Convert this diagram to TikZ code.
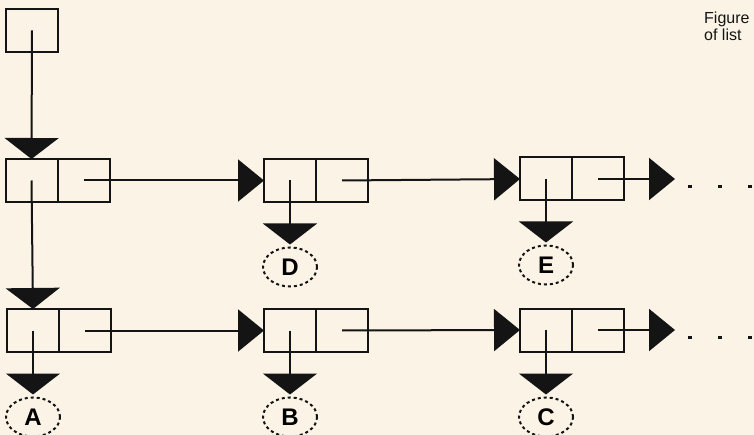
\documentclass[tikz,border=0pt]{standalone}
\usepackage{fontspec}
\setsansfont{Liberation Sans}
\usetikzlibrary{arrows.meta,shapes.geometric}
\definecolor{paper}{HTML}{FBF3E6}
\definecolor{ink}{HTML}{141414}
\tikzset{
  cell/.style={draw=ink, line width=2pt, minimum width=52pt, minimum height=43pt, inner sep=0pt, outer sep=0pt},
  atom/.style={ellipse, draw=ink, line width=2pt, dash pattern=on 3pt off 3pt, minimum width=54pt, minimum height=39pt, inner sep=0pt, font=\sffamily\bfseries\fontsize{24}{24}\selectfont},
  ptr/.style={draw=ink, line width=2pt},
  dnarrow/.style={ptr, -{Triangle[length=21pt,width=54pt]}},
  rtarrow/.style={ptr, -{Triangle[length=26pt,width=42pt]}},
}
\begin{document}
\begin{tikzpicture}[x=1pt, y=-1pt]
	\fill[paper] (0,0) rectangle (754,435);
	\useasboundingbox (0,0) rectangle (754,435);
	
	% title
	\node[anchor=base west, font=\sffamily\fontsize{16}{16}\selectfont, text=ink, inner sep=0pt] (fig) at (704,24) {Figure};
	\node[anchor=base west, font=\sffamily\fontsize{16}{16}\selectfont, text=ink, inner sep=0pt] (fig2) at (704,41) {of list};
	
	% single cell on top
	\node[cell] (top) at (32,30.5) {};
	
	% first row of cells
	\node[cell] (r1a) at (31.5,180.5) {};
	\node[cell] (r1b) at (83.5,180.5) {};
	\node[cell] (d1a) at (290,180.5) {};
	\node[cell] (d1b) at (342,180.5) {};
	\node[cell] (e1a) at (546,179) {};
	\node[cell] (e1b) at (598,179) {};
	\coordinate (e1end) at (675,179);
	
	% second row of cells
	\node[cell] (r2a) at (33,330.5) {};
	\node[cell] (r2b) at (85,330.5) {};
	\node[cell] (b2a) at (290,330.5) {};
	\node[cell] (b2b) at (342,330.5) {};
	\node[cell] (c2a) at (546,330) {};
	\node[cell] (c2b) at (598,330) {};
	\coordinate (c2end) at (675,330);
	
	% atoms
	\node[atom] (D) at (290,267) {D};
	\node[atom] (E) at (546,265) {E};
	\node[atom] (A) at (33,417) {A};
	\node[atom] (B) at (290,417) {B};
	\node[atom] (C) at (546,417) {C};
	
	% pointers down
	\draw[dnarrow] (top.center) -- (r1a.north);
	\draw[dnarrow] (r1a.center) -- (r2a.north);
	\draw[dnarrow, shorten >=2pt] (d1a.center) -- (D.north);
	\draw[dnarrow, shorten >=2pt] (e1a.center) -- (E.north);
	\draw[dnarrow, shorten >=2pt] (r2a.center) -- (A.north);
	\draw[dnarrow, shorten >=2pt] (b2a.center) -- (B.north);
	\draw[dnarrow, shorten >=2pt] (c2a.center) -- (C.north);
	
	% pointers right
	\draw[rtarrow] (r1b.center) -- (d1a.west);
	\draw[rtarrow] (d1b.center) -- (e1a.west);
	\draw[rtarrow] (e1b.center) -- (e1end);
	\draw[rtarrow] (r2b.center) -- (b2a.west);
	\draw[rtarrow] (b2b.center) -- (c2a.west);
	\draw[rtarrow] (c2b.center) -- (c2end);
	
	% dots
	\fill[ink] (688,185) rectangle +(4,3);
	\fill[ink] (718,185) rectangle +(4,3);
	\fill[ink] (748,185) rectangle +(4,3);
	\fill[ink] (688,336) rectangle +(4,3);
	\fill[ink] (718,336) rectangle +(4,3);
	\fill[ink] (748,336) rectangle +(4,3);
\end{tikzpicture}
\end{document}
